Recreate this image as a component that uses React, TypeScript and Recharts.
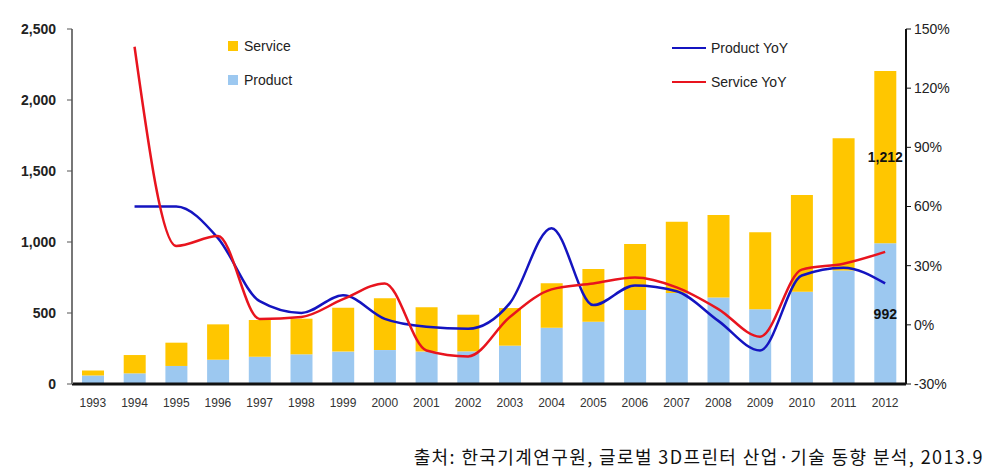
import React from 'react';
import { ComposedChart, Bar, Line, XAxis, YAxis, LabelList } from 'recharts';

const years = ['1993', '1994', '1995', '1996', '1997', '1998', '1999', '2000', '2001', '2002', '2003', '2004', '2005', '2006', '2007', '2008', '2009', '2010', '2011', '2012'];
const productSales = [60, 75, 127, 171, 192, 209, 228, 239, 228, 230, 270, 397, 439, 521, 640, 610, 526, 650, 800, 992];
const serviceSales = [35, 129, 164, 249, 259, 251, 309, 364, 312, 258, 265, 312, 371, 465, 503, 580, 542, 681, 930, 1212];
const productYoY = [null, 60, 60, 44, 12, 6, 15, 3, -1, -2, 11, 49, 10, 20, 17, 2, -13, 25, 29, 21];
const serviceYoY = [null, 141, 40, 45, 3, 4, 13, 21, -13, -16, 4, 18, 21, 24, 19, 8, -6, 28, 31, 37];

const leftTicks = [0, 500, 1000, 1500, 2000, 2500];
const rightTicks = [-30, 0, 30, 60, 90, 120, 150];

const PRODUCT_COLOR = '#9cc8f0';
const SERVICE_COLOR = '#ffc600';
const BLUE = '#1414c0';
const RED = '#e8141e';
const FONT = 'Arial, "Liberation Sans", sans-serif';

const data = years.map((year, i) => ({
  year,
  product: productSales[i],
  service: serviceSales[i],
  productYoY: productYoY[i],
  serviceYoY: serviceYoY[i],
}));

const lastIndex = years.length - 1;

// only the 2012 bar carries a value label
const LastLabel = (props: any) => {
  const { x, y, width, height, value, index } = props;
  if (index !== lastIndex) return null;
  return (
    <text
      x={x + width / 2}
      y={y + height / 2}
      textAnchor="middle"
      dominantBaseline="central"
      fontFamily={FONT}
      fontSize={14}
      fontWeight="bold"
      fill="#111"
    >
      {value.toLocaleString('en-US')}
    </text>
  );
};

const legendItem = (left: number, top: number, label: string, swatch: React.CSSProperties) => (
  <div style={{ position: 'absolute', left, top, display: 'flex', alignItems: 'center', fontFamily: FONT, fontSize: 14, color: '#222' }}>
    <span style={swatch} />
    {label}
  </div>
);

export default function App() {
  return (
    <div style={{ position: 'absolute', top: 0, left: 0, width: 987, height: 475, background: '#fff' }}>
      <ComposedChart width={987} height={475} data={data} margin={{ top: 29, right: 21, bottom: 61, left: 12 }}>
        <XAxis
          dataKey="year"
          height={30}
          tickLine={false}
          tickMargin={8}
          axisLine={{ stroke: '#111', strokeWidth: 3 }}
          tick={{ fontFamily: FONT, fontSize: 12, fill: '#333' }}
          interval={0}
        />
        <YAxis
          yAxisId="left"
          width={60}
          domain={[0, 2500]}
          ticks={leftTicks}
          tickSize={5}
          tickMargin={11}
          axisLine={{ stroke: '#777', strokeWidth: 2 }}
          tickLine={{ stroke: '#555' }}
          tickFormatter={(v: number) => v.toLocaleString('en-US')}
          tick={{ fontFamily: FONT, fontSize: 14, fontWeight: 'bold', fill: '#222' }}
        />
        <YAxis
          yAxisId="right"
          orientation="right"
          width={60}
          domain={[-30, 150]}
          ticks={rightTicks}
          tickSize={5}
          tickMargin={3}
          axisLine={{ stroke: '#111', strokeWidth: 2 }}
          tickLine={{ stroke: '#111' }}
          tickFormatter={(v: number) => `${v}%`}
          tick={{ fontFamily: FONT, fontSize: 14, fill: '#222', textAnchor: 'start' }}
        />
        <Bar yAxisId="left" dataKey="product" stackId="a" fill={PRODUCT_COLOR} barSize={22} isAnimationActive={false}>
          <LabelList dataKey="product" content={<LastLabel />} />
        </Bar>
        <Bar yAxisId="left" dataKey="service" stackId="a" fill={SERVICE_COLOR} barSize={22} isAnimationActive={false}>
          <LabelList dataKey="service" content={<LastLabel />} />
        </Bar>
        <Line yAxisId="right" type="monotone" dataKey="productYoY" stroke={BLUE} strokeWidth={2.5} dot={false} isAnimationActive={false} />
        <Line yAxisId="right" type="monotone" dataKey="serviceYoY" stroke={RED} strokeWidth={2.5} dot={false} isAnimationActive={false} />
      </ComposedChart>

      {legendItem(228, 38, 'Service', { width: 10, height: 10, background: SERVICE_COLOR, marginRight: 6 })}
      {legendItem(228, 72, 'Product', { width: 10, height: 10, background: PRODUCT_COLOR, marginRight: 6 })}
      {legendItem(672, 40, 'Product YoY', { width: 34, height: 2, background: BLUE, marginRight: 5 })}
      {legendItem(672, 74, 'Service YoY', { width: 34, height: 2, background: RED, marginRight: 5 })}

      <div
        style={{
          position: 'absolute',
          right: 3,
          top: 443,
          fontFamily: '"Noto Sans CJK KR", sans-serif',
          fontSize: 18,
          letterSpacing: 1.4,
          color: '#111',
          whiteSpace: 'nowrap',
        }}
      >
        출처: 한국기계연구원, 글로벌 3D프린터 산업·기술 동향 분석, 2013.9
      </div>
    </div>
  );
}
